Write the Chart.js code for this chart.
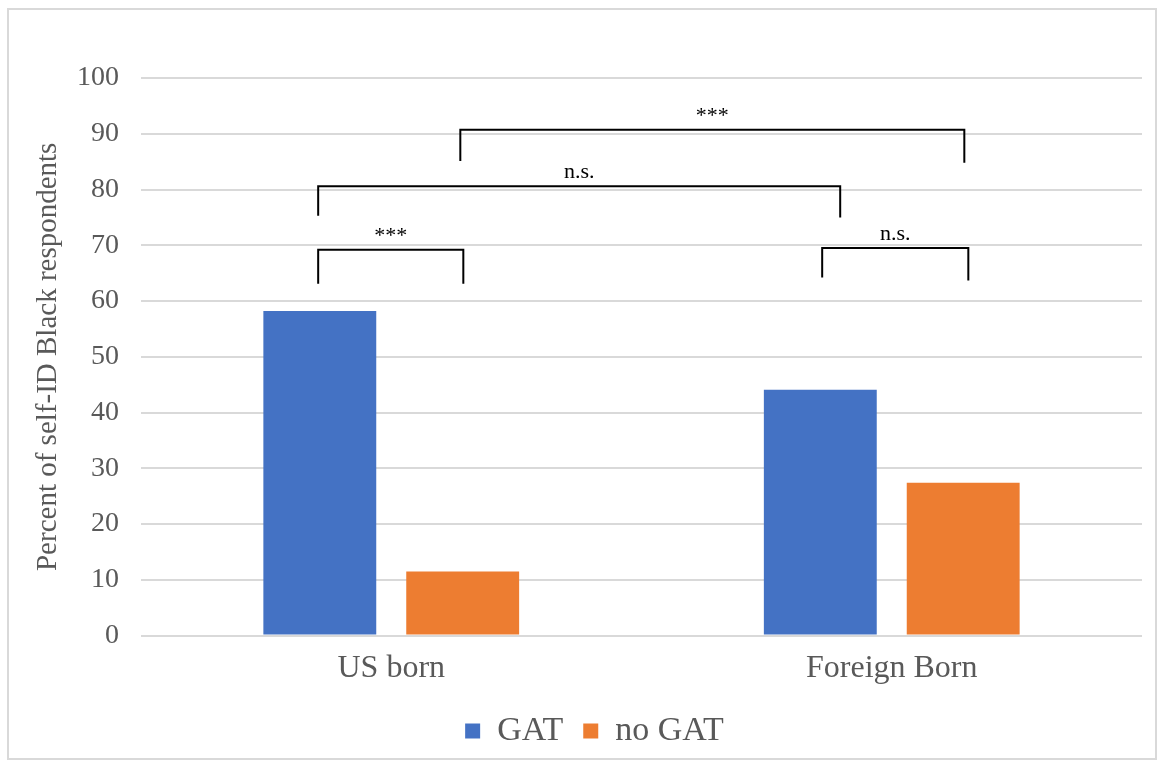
<!DOCTYPE html>
<html lang="en">
<head>
    <meta charset="UTF-8">
    <title>GAT by birthplace</title>
    <script src="https://cdn.jsdelivr.net/npm/chart.js"></script>
    <style>
        body {
            margin: 0;
            padding: 0;
            background: white;
        }
        #box {
            position: absolute;
            left: 7px;
            top: 8px;
            width: 1150px;
            height: 752px;
            border: 2px solid #d9d9d9;
            box-sizing: border-box;
        }
    </style>
</head>
<body>
    <div id="box">
        <canvas id="chart"></canvas>
    </div>

    <script>
        const categories = ['US born', 'Foreign Born'];
        const gatValues = [58.2, 44.1];
        const noGatValues = [11.5, 27.4];
        const yTicks = [0, 10, 20, 30, 40, 50, 60, 70, 80, 90, 100];

        // significance brackets: x in category units relative to category index
        const bracketFrom = [-0.146, -0.146, 0.138, 0.861];
        const bracketTo = [0.144, 0.897, 1.145, 1.153];
        const bracketTop = [69.2, 80.6, 90.7, 69.5];
        const bracketLeftEnd = [63.1, 75.3, 85.1, 64.2];
        const bracketRightEnd = [63.1, 75.0, 84.8, 63.7];
        const bracketText = ['***', 'n.s.', '***', 'n.s.'];

        const serif = '"Liberation Serif", "Times New Roman", serif';

        const bracketPlugin = {
            id: 'brackets',
            afterLayout(chart) {
                // legend sits a bit right of the canvas centre
                chart.legend.left += 19;
                chart.legend.right += 19;
            },
            afterDatasetsDraw(chart) {
                const x = chart.scales.x;
                const y = chart.scales.y;
                const cw = x.width / categories.length;
                const ctx = chart.ctx;
                ctx.save();
                ctx.strokeStyle = '#000';
                ctx.lineWidth = 2;
                ctx.fillStyle = '#000';
                ctx.font = '22px ' + serif;
                ctx.textAlign = 'center';
                ctx.textBaseline = 'alphabetic';
                for (let i = 0; i < bracketText.length; i++) {
                    const x1 = x.getPixelForValue(0) + bracketFrom[i] * cw;
                    const x2 = x.getPixelForValue(0) + bracketTo[i] * cw;
                    const yt = y.getPixelForValue(bracketTop[i]);
                    ctx.beginPath();
                    ctx.moveTo(x1, y.getPixelForValue(bracketLeftEnd[i]));
                    ctx.lineTo(x1, yt);
                    ctx.lineTo(x2, yt);
                    ctx.lineTo(x2, y.getPixelForValue(bracketRightEnd[i]));
                    ctx.stroke();
                    ctx.fillText(bracketText[i], (x1 + x2) / 2, yt - 8);
                }
                ctx.restore();
            }
        };

        new Chart(document.getElementById('chart').getContext('2d'), {
            type: 'bar',
            data: {
                labels: categories,
                datasets: [
                    {
                        label: 'GAT',
                        data: gatValues,
                        backgroundColor: '#4472c4'
                    },
                    {
                        label: 'no GAT',
                        data: noGatValues,
                        backgroundColor: '#ed7d31'
                    }
                ]
            },
            options: {
                responsive: true,
                maintainAspectRatio: false,
                animation: false,
                datasets: {
                    bar: {
                        categoryPercentage: 0.571,
                        barPercentage: 0.79
                    }
                },
                layout: {
                    padding: { top: 68, right: 13, left: 0, bottom: 0 }
                },
                plugins: {
                    legend: {
                        position: 'bottom',
                        labels: {
                            boxWidth: 15,
                            boxHeight: 15,
                            color: '#595959',
                            padding: 20,
                            font: { family: serif, size: 34 }
                        }
                    },
                    tooltip: { enabled: false }
                },
                scales: {
                    x: {
                        grid: { display: false },
                        border: { display: false },
                        ticks: {
                            color: '#595959',
                            padding: 6,
                            font: { family: serif, size: 32 }
                        }
                    },
                    y: {
                        min: 0,
                        max: 100,
                        afterBuildTicks(axis) {
                            axis.ticks = yTicks.map(v => ({ value: v }));
                        },
                        afterFit(axis) {
                            axis.width = 132;
                        },
                        grid: {
                            color: '#d9d9d9',
                            lineWidth: 2,
                            drawTicks: false
                        },
                        border: { display: false },
                        ticks: {
                            color: '#595959',
                            padding: 22,
                            font: { family: serif, size: 28 }
                        },
                        title: {
                            display: true,
                            text: 'Percent of self-ID Black respondents',
                            color: '#595959',
                            font: { family: serif, size: 29 },
                            padding: { top: 22, bottom: 8 }
                        }
                    }
                }
            },
            plugins: [bracketPlugin]
        });
    </script>
</body>
</html>
